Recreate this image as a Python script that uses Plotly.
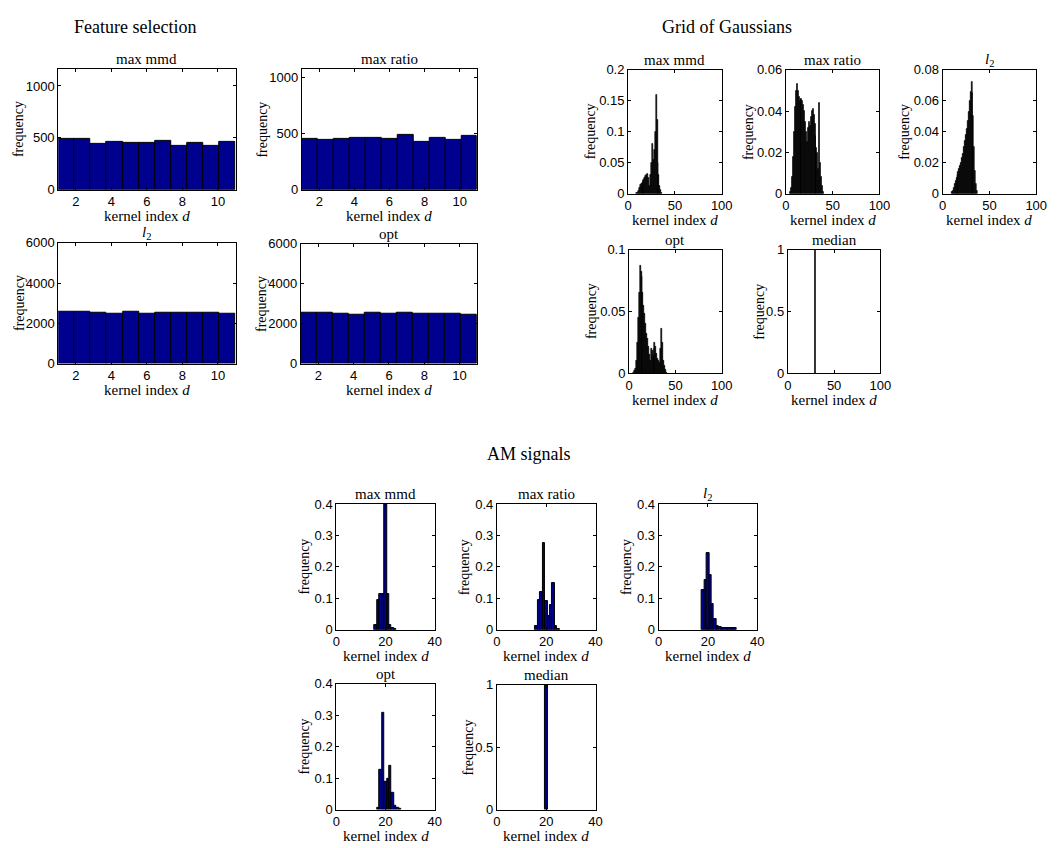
import numpy as np
import plotly.graph_objects as go

W, H = 1063, 848
NAVY = "#00008F"

# ---------------- data ----------------
# Feature selection: 11 histogram bins over kernel index 1..11
fs_max_mmd = [494, 487, 446, 465, 456, 449, 472, 421, 449, 424, 465]
fs_max_ratio = [450, 444, 453, 465, 462, 453, 488, 424, 459, 439, 482]
fs_l2 = [2560, 2560, 2500, 2470, 2560, 2470, 2545, 2500, 2500, 2510, 2450]
fs_opt = [2555, 2555, 2500, 2470, 2555, 2475, 2550, 2500, 2500, 2505, 2450]
fs_xticks = [2, 4, 6, 8, 10]

# Grid of Gaussians: frequency per kernel index (first index given, then values)
gg_max_mmd_start = 9
gg_max_mmd = [0.001, 0.002, 0.005, 0.010, 0.014, 0.016, 0.018, 0.020, 0.022, 0.026,
              0.029, 0.030, 0.032, 0.025, 0.012, 0.030, 0.050, 0.080, 0.055, 0.070,
              0.100, 0.160, 0.120, 0.050, 0.030, 0.012, 0.006, 0.002]
gg_max_ratio_start = 5
gg_max_ratio = [0.001, 0.003, 0.008, 0.018, 0.030, 0.042, 0.050, 0.053, 0.050, 0.047,
                0.045, 0.046, 0.046, 0.045, 0.043, 0.040, 0.035, 0.030, 0.025, 0.032,
                0.035, 0.033, 0.037, 0.040, 0.041, 0.038, 0.034, 0.028, 0.022, 0.020,
                0.012, 0.044, 0.015, 0.008, 0.004, 0.001]
gg_l2_start = 10
gg_l2 = [0.001, 0.002, 0.004, 0.006, 0.008, 0.010, 0.012, 0.014, 0.016, 0.018,
         0.020, 0.023, 0.026, 0.030, 0.034, 0.038, 0.042, 0.047, 0.053, 0.060,
         0.066, 0.072, 0.065, 0.050, 0.030, 0.015, 0.006, 0.002]
gg_opt_start = 5
gg_opt = [0.001, 0.002, 0.004, 0.010, 0.025, 0.045, 0.065, 0.087, 0.082, 0.078,
          0.065, 0.055, 0.048, 0.040, 0.032, 0.028, 0.022, 0.015, 0.010, 0.020,
          0.018, 0.014, 0.020, 0.025, 0.022, 0.016, 0.012, 0.010, 0.009, 0.020,
          0.036, 0.025, 0.010, 0.006, 0.003, 0.001]
gg_median_start = 30
gg_median = [1.0]

# AM signals
am_max_mmd_start = 16
am_max_mmd = [0.015, 0.095, 0.115, 0.115, 0.400, 0.115, 0.015, 0.005, 0.002]
am_max_ratio_start = 16
am_max_ratio = [0.012, 0.095, 0.120, 0.275, 0.090, 0.045, 0.080, 0.148, 0.012, 0.003]
am_l2_start = 18
am_l2 = [0.125, 0.158, 0.244, 0.174, 0.081, 0.033, 0.012, 0.009, 0.007, 0.007,
         0.007, 0.007, 0.007, 0.007]
am_opt_start = 17
am_opt = [0.005, 0.128, 0.307, 0.088, 0.098, 0.140, 0.052, 0.012, 0.004, 0.002]
am_median_start = 20
am_median = [1.0]

# ---------------- helpers ----------------
fs_edges = np.linspace(1, 11, len(fs_max_mmd) + 1)
fs_centers = (fs_edges[:-1] + fs_edges[1:]) / 2
fs_width = fs_edges[1] - fs_edges[0]


def idx(start, vals):
    return np.arange(start, start + len(vals))


L2 = "<i>l</i><sub>2</sub>"
panels = [
    # Feature selection
    dict(box=(55, 235, 63, 186), xr=[1, 11], xt=fs_xticks, yr=[0, 1165], yt=[0, 500, 1000],
         x=fs_centers, y=fs_max_mmd, w=fs_width, c=NAVY, t="max mmd", yo=40),
    dict(box=(302, 480, 63, 186), xr=[1, 11], xt=fs_xticks, yr=[0, 1075], yt=[0, 500, 1000],
         x=fs_centers, y=fs_max_ratio, w=fs_width, c=NAVY, t="max ratio", yo=40),
    dict(box=(55, 235, 240, 363), xr=[1, 11], xt=fs_xticks, yr=[0, 6000], yt=[0, 2000, 4000, 6000],
         x=fs_centers, y=fs_l2, w=fs_width, c=NAVY, t=L2, yo=40),
    dict(box=(301, 480, 241, 363), xr=[1, 11], xt=fs_xticks, yr=[0, 6000], yt=[0, 2000, 4000, 6000],
         x=fs_centers, y=fs_opt, w=fs_width, c=NAVY, t="opt", yo=40),
    # Grid of Gaussians
    dict(box=(633, 728, 64, 190), xr=[0, 100], xt=[0, 50, 100], yr=[0, 0.2], yt=[0, 0.05, 0.1, 0.15, 0.2],
         x=idx(gg_max_mmd_start, gg_max_mmd), y=gg_max_mmd, w=1, c="black", t="max mmd", yo=38),
    dict(box=(793, 888, 64, 190), xr=[0, 100], xt=[0, 50, 100], yr=[0, 0.06], yt=[0, 0.02, 0.04, 0.06],
         x=idx(gg_max_ratio_start, gg_max_ratio), y=gg_max_ratio, w=1, c="black", t="max ratio", yo=38),
    dict(box=(952, 1047, 64, 190), xr=[0, 100], xt=[0, 50, 100], yr=[0, 0.08], yt=[0, 0.02, 0.04, 0.06, 0.08],
         x=idx(gg_l2_start, gg_l2), y=gg_l2, w=1, c="black", t=L2, yo=38),
    dict(box=(634, 728, 247, 373), xr=[0, 100], xt=[0, 50, 100], yr=[0, 0.1], yt=[0, 0.05, 0.1],
         x=idx(gg_opt_start, gg_opt), y=gg_opt, w=1, c="black", t="opt", yo=38),
    dict(box=(795, 889, 247, 373), xr=[0, 100], xt=[0, 50, 100], yr=[0, 1], yt=[0, 0.5, 1],
         x=idx(gg_median_start, gg_median), y=gg_median, w=1, c="black", t="median", yo=29),
    # AM signals
    dict(box=(337, 437, 506, 634), xr=[0, 40], xt=[0, 20, 40], yr=[0, 0.4], yt=[0, 0.1, 0.2, 0.3, 0.4],
         x=idx(am_max_mmd_start, am_max_mmd), y=am_max_mmd, w=1, c=NAVY, t="max mmd", yo=32),
    dict(box=(500, 600, 506, 634), xr=[0, 40], xt=[0, 20, 40], yr=[0, 0.4], yt=[0, 0.1, 0.2, 0.3, 0.4],
         x=idx(am_max_ratio_start, am_max_ratio), y=am_max_ratio, w=1, c=NAVY, t="max ratio", yo=32),
    dict(box=(664, 764, 506, 634), xr=[0, 40], xt=[0, 20, 40], yr=[0, 0.4], yt=[0, 0.1, 0.2, 0.3, 0.4],
         x=idx(am_l2_start, am_l2), y=am_l2, w=1, c=NAVY, t=L2, yo=32),
    dict(box=(337, 437, 689, 817), xr=[0, 40], xt=[0, 20, 40], yr=[0, 0.4], yt=[0, 0.1, 0.2, 0.3, 0.4],
         x=idx(am_opt_start, am_opt), y=am_opt, w=1, c=NAVY, t="opt", yo=32),
    dict(box=(500, 600, 690, 817), xr=[0, 40], xt=[0, 20, 40], yr=[0, 1], yt=[0, 0.5, 1],
         x=idx(am_median_start, am_median), y=am_median, w=1, c=NAVY, t="median", yo=29),
]

SERIF = "Liberation Serif"
SANS = "Liberation Sans"

fig = go.Figure()
layout = dict(
    width=W, height=H, margin=dict(l=0, r=0, t=0, b=0),
    paper_bgcolor="white", plot_bgcolor="white", showlegend=False,
    bargap=0, font=dict(family=SANS, size=13, color="black"),
)
annotations = []


def px_x(p):
    return p / W


def px_y(p):
    return 1 - p / H


axis_common = dict(showline=True, linecolor="black", linewidth=1, mirror="ticks",
                   ticks="inside", ticklen=3, tickcolor="black", showgrid=False,
                   zeroline=False, fixedrange=True,
                   tickfont=dict(family=SANS, size=13, color="black"))

for i, p in enumerate(panels, start=1):
    l, r, t, b = p["box"]
    xa = "x" if i == 1 else f"x{i}"
    ya = "y" if i == 1 else f"y{i}"
    fig.add_trace(go.Bar(
        x=p["x"], y=p["y"], width=p["w"], xaxis=xa, yaxis=ya,
        marker=dict(color=p["c"], line=dict(color="black", width=0.6 if p["c"] == "black" else 1)),
        hoverinfo="x+y",
    ))
    layout["xaxis" if i == 1 else f"xaxis{i}"] = dict(
        axis_common, domain=[px_x(l), px_x(r)], range=p["xr"], anchor=ya,
        tickvals=p["xt"], ticktext=[f"{v:g}" for v in p["xt"]])
    layout["yaxis" if i == 1 else f"yaxis{i}"] = dict(
        axis_common, domain=[px_y(b), px_y(t)], range=p["yr"], anchor=xa,
        tickvals=p["yt"], ticktext=[f"{v:g}" for v in p["yt"]])
    cx = (l + r) / 2
    annotations.append(dict(text=p["t"], x=px_x(cx), y=px_y(t - 10), xref="paper", yref="paper",
                            xanchor="center", yanchor="middle", showarrow=False,
                            font=dict(family=SERIF, size=15, color="black")))
    annotations.append(dict(text="kernel index <i>d</i>", x=px_x(cx), y=px_y(b + 27),
                            xref="paper", yref="paper", xanchor="center", yanchor="middle",
                            showarrow=False, font=dict(family=SERIF, size=15, color="black")))
    annotations.append(dict(text="frequency", x=px_x(l - p["yo"]), y=px_y((t + b) / 2),
                            xref="paper", yref="paper", xanchor="center", yanchor="middle",
                            textangle=-90, showarrow=False,
                            font=dict(family=SERIF, size=14, color="black")))

for text, cx, cy in [("Feature selection", 133, 20), ("Grid of Gaussians", 733, 20), ("AM signals", 533, 455)]:
    annotations.append(dict(text=text, x=px_x(cx), y=px_y(cy), xref="paper", yref="paper",
                            xanchor="center", yanchor="middle", showarrow=False,
                            font=dict(family=SERIF, size=18, color="black")))

layout["annotations"] = annotations
fig.update_layout(**layout)
fig.write_html("out.html")
